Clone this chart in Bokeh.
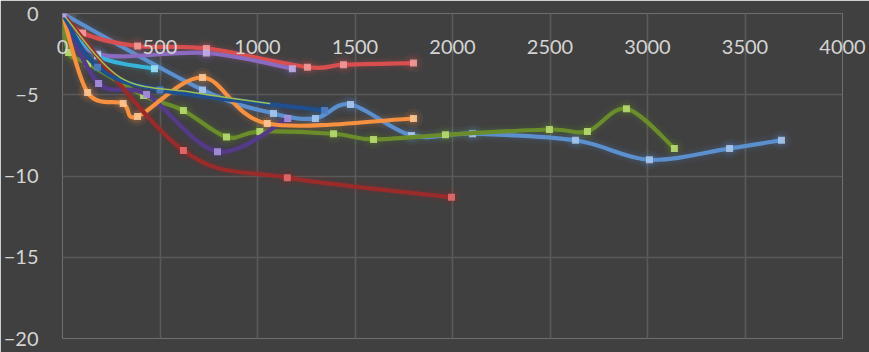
from bokeh.plotting import figure
from bokeh.models import Range1d, FixedTicker, ColumnDataSource
from bokeh.embed import file_html
from bokeh.resources import INLINE

# ---- data ----
x_ticks = [0, 500, 1000, 1500, 2000, 2500, 3000, 3500, 4000]
y_ticks = [-20, -15, -10, -5, 0]

steel_x = [0, 718, 1082, 1297, 1477, 1790, 2103, 2631, 3010, 3421, 3687]
steel_y = [0, -4.7, -6.15, -6.46, -5.6, -7.5, -7.4, -7.8, -9.0, -8.3, -7.8]

olive_x = [0, 31, 129, 416, 620, 841, 1012, 1390, 1595, 1964, 2497, 2692, 2892, 3138]
olive_y = [0, -2.4, -3.07, -5.05, -5.97, -7.6, -7.26, -7.4, -7.75, -7.46, -7.14, -7.26, -5.86, -8.3]

lime_x = [0, 297, 672, 1062]
lime_y = [0, -3.94, -4.86, -5.54]

red_x = [0, 103, 385, 738, 1256, 1441, 1800]
red_y = [0, -1.2, -2.0, -2.15, -3.3, -3.15, -3.05]

lpurple_x = [0, 180, 738, 1179]
lpurple_y = [0, -2.5, -2.43, -3.4]

cyan_x = [0, 180, 472]
cyan_y = [0, -2.6, -3.4]

orange_x = [0, 129, 311, 385, 718, 1050, 1800]
orange_y = [0, -4.86, -5.54, -6.34, -3.94, -6.77, -6.46]

navy_x = [0, 180, 500, 1344]
navy_y = [0, -3.3, -4.7, -5.97]

dpurple_x = [0, 185, 431, 795, 1155]
dpurple_y = [0, -4.3, -4.98, -8.5, -6.46]

dred_x = [0, 620, 1153, 1995]
dred_y = [0, -8.43, -10.1, -11.3]

series = [
    # x, y, line colour, marker colour, line width
    (steel_x, steel_y, "#5b8fce", "#a9c6ec", 4.2),
    (red_x, red_y, "#d94f4f", "#f29a9a", 4.2),
    (olive_x, olive_y, "#6a8c2a", "#b8dc72", 4.2),
    (lpurple_x, lpurple_y, "#8a6bbf", "#c2aee6", 4.2),
    (cyan_x, cyan_y, "#38b3d9", "#9fe0f2", 4.2),
    (dpurple_x, dpurple_y, "#553a8a", "#a791dd", 4.2),
    (orange_x, orange_y, "#f59140", "#fcc796", 4.2),
    (dred_x, dred_y, "#9a2b2b", "#e46b6b", 4.2),
    (navy_x, navy_y, "#1f4f8f", "#4f7fc4", 4.2),
    (lime_x, lime_y, "#9dbf55", "#b8dc72", 1.5),
]


def smooth_segments(xs, ys):
    """Cubic Bezier segments (Catmull-Rom style control points) through the data points."""
    n = len(xs)
    d = dict(x0=[], y0=[], x1=[], y1=[], cx0=[], cy0=[], cx1=[], cy1=[])
    for i in range(n - 1):
        xa, ya = xs[max(i - 1, 0)], ys[max(i - 1, 0)]
        xb, yb = xs[i], ys[i]
        xc, yc = xs[i + 1], ys[i + 1]
        xd, yd = xs[min(i + 2, n - 1)], ys[min(i + 2, n - 1)]
        d["x0"].append(xb); d["y0"].append(yb)
        d["x1"].append(xc); d["y1"].append(yc)
        d["cx0"].append(xb + (xc - xa) / 6.0); d["cy0"].append(yb + (yc - ya) / 6.0)
        d["cx1"].append(xc - (xd - xb) / 6.0); d["cy1"].append(yc - (yd - yb) / 6.0)
    return ColumnDataSource(d)


BG = "#404040"
GRID = "#5a5a5a"
TXT = "#d4d4d4"
FONT = "Lato"

p = figure(width=869, height=352, output_backend="svg", toolbar_location=None,
           x_range=Range1d(0, 4000), y_range=Range1d(-20, 0), x_axis_location="above",
           min_border_left=62, min_border_right=27, min_border_top=13, min_border_bottom=14)
p.background_fill_color = BG
p.border_fill_color = BG
p.outline_line_color = None

p.xgrid.ticker = FixedTicker(ticks=x_ticks)
p.ygrid.ticker = FixedTicker(ticks=y_ticks)
p.xgrid.grid_line_color = GRID
p.ygrid.grid_line_color = GRID
p.xgrid.grid_line_width = 1.6
p.ygrid.grid_line_width = 1.6

# x axis crosses at y = 0 (top edge), labels hang just below that line
xa = p.xaxis[0]
xa.ticker = FixedTicker(ticks=x_ticks)
xa.axis_line_color = None
xa.major_tick_line_color = None
xa.minor_tick_line_color = None
xa.major_tick_out = 0
xa.major_tick_in = 0
xa.major_label_standoff = -40
xa.major_label_text_color = TXT
xa.major_label_text_font = FONT
xa.major_label_text_font_size = "20px"

ya = p.yaxis[0]
ya.ticker = FixedTicker(ticks=y_ticks)
ya.axis_line_color = None
ya.major_tick_line_color = None
ya.minor_tick_line_color = None
ya.major_tick_out = 0
ya.major_tick_in = 0
ya.major_label_standoff = 24
ya.major_label_text_color = TXT
ya.major_label_text_font = FONT
ya.major_label_text_font_size = "20px"

# soft halo at the origin
p.scatter(x=[0], y=[0], size=28, marker="circle", fill_color="#6e5c56",
          fill_alpha=0.5, line_color=None)

# glows
for xs, ys, lc, mc, lw in series:
    src = smooth_segments(xs, ys)
    if lw > 3:
        p.bezier(x0="x0", y0="y0", x1="x1", y1="y1", cx0="cx0", cy0="cy0", cx1="cx1", cy1="cy1",
                 source=src, line_color=lc, line_width=lw + 10, line_alpha=0.05)
        p.bezier(x0="x0", y0="y0", x1="x1", y1="y1", cx0="cx0", cy0="cy0", cx1="cx1", cy1="cy1",
                 source=src, line_color=lc, line_width=lw + 5, line_alpha=0.07)
        p.scatter(x=xs[1:], y=ys[1:], size=20, marker="circle", fill_color=lc,
                  fill_alpha=0.08, line_color=None)
        p.scatter(x=xs[1:], y=ys[1:], size=13, marker="circle", fill_color=lc,
                  fill_alpha=0.12, line_color=None)

# lines and markers
for xs, ys, lc, mc, lw in series:
    src = smooth_segments(xs, ys)
    p.bezier(x0="x0", y0="y0", x1="x1", y1="y1", cx0="cx0", cy0="cy0", cx1="cx1", cy1="cy1",
             source=src, line_color=lc, line_width=lw, line_cap="round")
    if lw > 3:
        p.scatter(x=xs[1:], y=ys[1:], size=7, marker="square", fill_color=mc,
                  fill_alpha=0.9, line_color=None)

p.scatter(x=[0], y=[0], size=8, marker="square", fill_color="#b9a3df", line_color=None)

open("out.html", "w").write(file_html(p, INLINE))
